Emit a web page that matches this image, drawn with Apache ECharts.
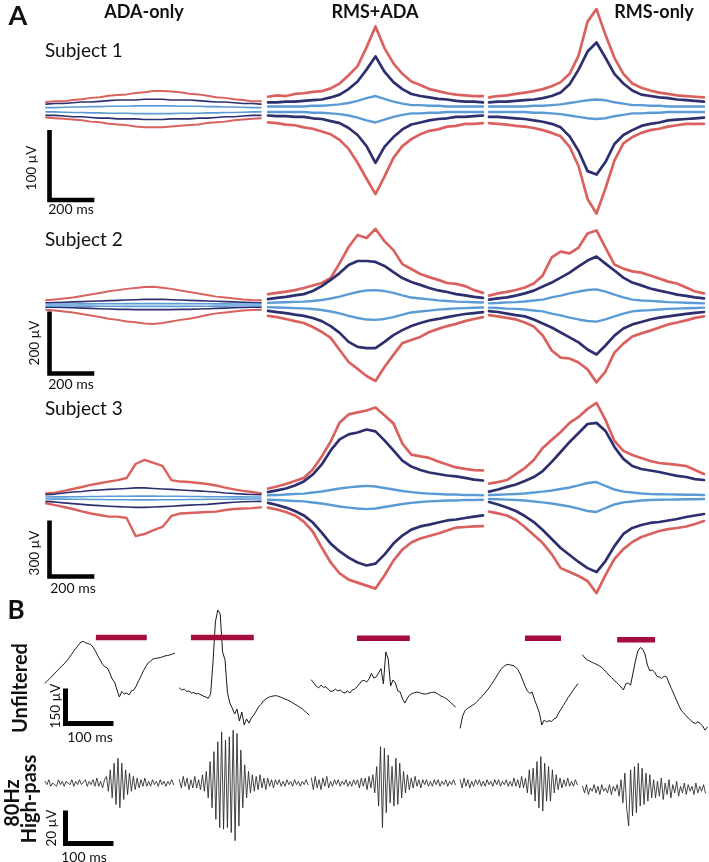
<!DOCTYPE html>
<html><head><meta charset="utf-8">
<script src="https://cdn.jsdelivr.net/npm/echarts@6/dist/echarts.min.js"></script>
<style>html,body{margin:0;padding:0;background:#fff}#c{width:709px;height:862px}</style>
</head><body><div id="c"></div>
<script>
// ---------- Panel A data (µV envelopes vs time in ms) ----------
const timesA = [-480,-440,-400,-360,-320,-280,-240,-200,-160,-120,-80,-40,0,40,80,120,160,200,240,280,320,360,400,440,480];

const s1AdaRedUp   = [11,12,12,14,15,17,18,20,21,22,24,25,27,27,26,25,23,22,20,18,17,15,14,12,12];
const s1AdaRedDn   = [11,12,13,14,15,17,18,20,21,22,24,25,25,25,24,23,22,21,19,18,17,15,14,13,12];
const s1AdaNavyUp  = [8,9,9,10,11,11,12,13,14,14,14,15,15,15,14,14,14,13,12,11,11,10,9,9,8];
const s1AdaNavyDn  = [8,8,9,10,10,11,12,12,13,13,13,14,14,14,13,13,13,12,12,11,10,10,9,8,8];
const s1AdaLight   = [3,3,3.5,4,4,4.5,4.5,5,5,5,5.5,5.5,5.5,5.5,5.5,5,5,5,4.5,4.5,4,4,3.5,3,3];
const s1RmsAdaRedUp  = [18,20,19,22,23,25,26,30,37,49,62,89,119,88,66,51,40,35,29,26,23,21,20,19,19];
const s1RmsAdaRedDn  = [19,20,22,23,26,28,32,36,44,57,77,100,122,97,70,53,43,36,31,29,25,24,21,21,20];
const s1RmsAdaNavyUp = [10,10,11,11,12,13,14,17,21,29,40,57,76,54,39,29,22,19,17,15,14,12,11,11,10];
const s1RmsAdaNavyDn = [9,10,10,11,11,13,14,17,20,27,37,53,77,54,40,29,22,19,16,14,13,11,11,10,9];
const s1RmsAdaLight  = [4,4,4,4,4,5,5,6,7,9,12,16,19,15,11,8,6,6,5,5,4,4,4,4,4];
const s1RmsRedUp  = [17,19,20,22,24,26,29,33,39,51,77,126,144,107,74,51,37,31,27,24,22,20,19,18,17];
const s1RmsRedDn  = [20,21,22,24,25,27,30,34,39,54,82,129,150,114,74,49,40,34,30,28,25,23,21,21,21];
const s1RmsNavyUp = [10,11,11,12,13,14,16,19,24,36,57,83,96,74,51,37,27,21,19,17,16,14,13,12,11];
const s1RmsNavyDn = [11,11,12,13,14,16,18,21,26,39,60,89,94,76,50,37,30,24,21,19,16,15,14,13,12];
const s1RmsLight  = [4,4,4,4,4,5,5,6,7,9,11,13,14,13,10,8,6,6,5,5,4,4,4,4,4];

const s2AdaRedUp   = [15,18,21,24,29,34,39,44,48,52,55,58,59,56,52,47,42,37,32,27,24,21,18,16,15];
const s2AdaRedDn   = [15,18,21,24,29,34,39,44,48,53,56,60,61,58,53,48,44,39,32,27,24,21,18,16,15];
const s2AdaNavyUp  = [7,8,9,10,11,12,13,14,15,16,17,18,18,18,17,16,15,14,13,12,11,10,9,8,7];
const s2AdaNavyDn  = [7,7,8,9,10,11,12,13,14,14,15,15,15,15,15,14,14,13,12,11,10,9,8,7,7];
const s2AdaLight   = [3,3,3,3,3.5,3.5,4,4,4,4.5,4.5,4.5,4.5,4.5,4.5,4.5,4,4,4,3.5,3.5,3,3,3,3];
const s2RmsAdaRedUp  = [35,39,43,48,55,63,71,87,135,187,226,216,245,206,177,132,116,100,90,81,71,68,61,48,39];
const s2RmsAdaRedDn  = [35,39,45,52,58,71,87,106,145,184,206,229,245,200,161,123,113,103,87,77,68,61,52,45,39];
const s2RmsAdaNavyUp = [19,23,26,31,35,45,61,81,103,129,142,142,139,126,106,87,74,65,55,47,42,35,31,26,23];
const s2RmsAdaNavyDn = [19,23,26,31,35,42,52,68,90,119,135,139,139,119,97,81,68,58,50,45,39,34,29,26,23];
const s2RmsAdaLight  = [7,8,9,10,11,13,16,21,27,35,42,47,48,45,39,31,24,21,18,15,13,11,10,9,8];
const s2RmsRedUp  = [32,39,44,50,58,71,97,155,174,168,187,232,242,187,132,119,110,106,97,87,77,71,58,45,39];
const s2RmsRedDn  = [31,35,40,45,55,68,97,145,168,171,184,206,248,213,152,123,100,90,81,71,61,55,48,40,35];
const s2RmsNavyUp = [19,23,26,32,39,48,61,74,90,106,126,145,158,135,113,90,74,65,55,48,42,35,31,26,23];
const s2RmsNavyDn = [18,21,26,31,35,45,58,71,87,103,119,142,158,129,97,74,61,53,45,39,35,31,27,24,21];
const s2RmsLight  = [7,8,10,11,13,16,19,26,32,39,45,50,52,45,35,26,19,16,15,13,11,10,9,8,7];

const s3AdaRedUp   = [25,29,38,48,59,70,79,88,96,107,182,204,188,172,96,88,86,80,75,67,56,46,38,32,25];
const s3AdaRedDn   = [28,38,48,59,72,83,91,100,100,107,204,193,172,155,96,83,80,78,75,73,64,59,56,54,50];
const s3AdaNavyUp  = [18,21,27,32,35,40,43,46,48,51,54,54,51,48,46,43,40,38,35,32,27,24,21,19,18];
const s3AdaNavyDn  = [18,21,26,30,34,38,41,44,46,48,50,50,48,46,44,41,38,36,34,30,26,23,20,19,18];
const s3AdaLight   = [5,6,6,7,7,8,8,9,9,9,10,10,10,9,9,9,8,8,7,7,7,6,6,5,5];
const s3RmsAdaRedUp  = [48,59,72,88,105,150,220,300,402,445,456,466,482,440,397,289,230,220,212,193,177,161,153,147,145];
const s3RmsAdaRedDn  = [54,64,78,96,129,182,268,348,407,440,456,472,488,418,338,279,241,220,206,193,177,161,158,155,153];
const s3RmsAdaNavyUp = [29,38,48,64,86,123,177,252,311,338,348,364,354,306,252,198,166,147,134,126,118,113,105,96,91];
const s3RmsAdaNavyDn = [29,40,54,72,96,134,188,247,289,322,348,364,354,306,247,204,172,155,145,134,123,118,110,102,96];
const s3RmsAdaLight  = [12,13,16,19,21,27,32,40,48,54,59,62,59,51,43,35,29,24,21,19,16,16,13,13,12];
const s3RmsRedUp  = [72,80,91,123,155,198,263,306,348,397,429,472,504,413,300,247,225,209,193,182,177,172,166,145,123];
const s3RmsRedDn  = [78,88,99,123,161,204,247,306,381,402,423,450,515,418,332,279,241,214,198,182,172,166,158,145,129];
const s3RmsNavyUp = [29,40,54,67,86,107,139,188,241,295,343,391,397,354,268,204,166,150,142,134,123,113,107,96,91];
const s3RmsNavyDn = [27,40,56,75,102,134,177,225,273,311,348,381,402,343,263,198,166,150,139,134,126,118,107,99,91];
const s3RmsLight  = [11,12,14,16,19,24,29,35,43,51,62,75,80,59,40,29,24,19,16,15,14,13,12,12,11];

const methodTitles = ['ADA-only','RMS+ADA','RMS-only'];
const subjectTitles = ['Subject 1','Subject 2','Subject 3'];
const scaleUV = [100, 200, 300];
const scaleMsA = 200;

// ---------- Panel B data ----------
const segStartMs = [0, 280, 555, 865, 1120];
const unfDtMs = 5;
const hpDtMs = 4;
const unfSeg1 = [29,39,49,60,71,82,92,103,112,124,137,152,167,180,193,206,208,202,199,195,184,167,146,129,109,100,94,73,47,34,0,-30,-6,-17,-13,-21,-4,0,17,39,60,82,101,116,124,133,135,137,139,142,146,148,150,154,157];
const unfSeg2 = [9,0,4,-6,-4,-13,-11,-17,-15,-21,-26,-30,-36,-17,120,292,343,326,163,129,-9,-56,-77,-103,-82,-133,-94,-150,-124,-142,-120,-107,-90,-73,-62,-47,-39,-32,-28,-26,-24,-26,-30,-34,-39,-43,-47,-54,-60,-66,-73,-79,-88,-97,-107];
const unfSeg3 = [43,30,17,9,21,11,14,4,-6,-4,4,-4,0,-9,-13,-4,-13,0,4,13,26,39,41,34,47,71,51,56,73,92,26,163,133,17,43,30,-4,-9,-39,-56,-34,-21,-15,-11,-9,-11,-15,-17,-17,-13,-11,-9,-13,-19,-26,-30,-36,-43,-54,-62,-73];
const unfSeg4 = [-163,-112,-88,-79,-73,-66,-60,-49,-39,-28,-17,-4,9,24,39,56,73,88,99,107,110,107,105,99,88,69,43,17,-4,-15,-9,-43,-69,-99,-150,-129,-137,-131,-135,-124,-120,-99,-82,-66,-49,-32,-17,-2,13,26];
const unfSeg5 = [150,137,129,124,118,114,109,103,97,86,75,64,54,43,34,24,13,0,26,30,21,73,124,167,182,176,154,107,82,86,77,58,56,49,60,56,30,6,-17,-41,-64,-86,-97,-109,-120,-129,-139,-144,-137,-144,-154,-172,-159];
const hpSeg1 = [1,-1,2,-2,0,1,-2,2,-1,1,-2,1,0,-1,2,-2,1,-1,2,-1,0,2,-2,1,-1,2,-2,3,-2,1,-3,2,
  4,-5,8,-9,12,-13,15,-15,12,-10,8,-7,6,
  -5,4,-4,3,-3,2,-2,3,-2,1,-2,2,-1,1,-2,2,-1,1,-2,1,-1,2,-1];
const hpSeg2 = [2,-3,4,-2,3,-4,2,-3,4,-3,2,-4,5,-5,
  7,-9,13,-15,19,-22,25,-27,31,-28,26,-27,28,-30,32,-35,30,-26,20,-15,11,-9,
  7,-6,5,-5,4,-4,5,-3,3,-4,3,-2,2,-3,2,-1,2,-2,1,-2,2,-1,1,-2,2,-1,1,-2,1,-1,2,-1];
const hpSeg3 = [3,-4,4,-3,2,-4,3,-2,4,-3,1,-2,2,-1,2,-2,1,-1,2,-2,1,-2,2,-1,2,-3,3,-2,3,-4,4,-3,5,-6,
  10,-14,22,-27,21,-18,17,-12,10,-14,15,-13,12,-9,7,
  -6,5,-4,3,-3,4,-2,2,-3,2,-1,2,-2,1,-2,2,-1,2,-2,1,-1,2,-2,1,-1,2,-1];
const hpSeg4 = [2,-3,3,-2,2,-3,1,-2,2,-1,2,-2,1,-2,2,-1,1,-2,2,-1,2,-2,1,-1,2,-2,1,-2,3,-2,2,-3,4,-3,3,
  -6,8,-7,9,-11,13,-15,16,-17,12,-11,10,-11,8,-6,5,
  -4,3,-3,2,-2,3,-2,1,-2,2,-1];
const hpSeg5 = [-2,-6,-1,-7,-3,-5,-1,-6,-2,-7,-1,-5,-3,-6,-1,-7,-2,-5,-1,-8,
  2,-12,6,-16,-26,8,-20,10,-18,12,-14,9,-13,6,-11,5,-9,
  2,-9,1,-8,3,-10,0,-7,2,-9,-1,-6,1,-8,-2,-6,0,-7,-1,-5,-2,-7,0,-6,-2,-5,-1,-6];
const barStartMs = [106, 304, 650, 1000, 1192];
const barEndMs   = [212, 435, 760, 1075, 1271];
const barLevelUV = [225, 225, 222, 222, 215];
const scaleUnfUV = 150, scaleHpUV = 20, scaleMsB = 100;

// ---------- build ----------
const RED = '#D9625F', NAVY = '#2D2F6E', LIGHT = '#5B9BD5', BAR = '#A50D3D';
const subjects = [
  [[s1AdaRedUp,s1AdaRedDn,s1AdaNavyUp,s1AdaNavyDn,s1AdaLight],[s1RmsAdaRedUp,s1RmsAdaRedDn,s1RmsAdaNavyUp,s1RmsAdaNavyDn,s1RmsAdaLight],[s1RmsRedUp,s1RmsRedDn,s1RmsNavyUp,s1RmsNavyDn,s1RmsLight]],
  [[s2AdaRedUp,s2AdaRedDn,s2AdaNavyUp,s2AdaNavyDn,s2AdaLight],[s2RmsAdaRedUp,s2RmsAdaRedDn,s2RmsAdaNavyUp,s2RmsAdaNavyDn,s2RmsAdaLight],[s2RmsRedUp,s2RmsRedDn,s2RmsNavyUp,s2RmsNavyDn,s2RmsLight]],
  [[s3AdaRedUp,s3AdaRedDn,s3AdaNavyUp,s3AdaNavyDn,s3AdaLight],[s3RmsAdaRedUp,s3RmsAdaRedDn,s3RmsAdaNavyUp,s3RmsAdaNavyDn,s3RmsAdaLight],[s3RmsRedUp,s3RmsRedDn,s3RmsNavyUp,s3RmsNavyDn,s3RmsLight]]
];
const rowCenters = [[109.5,108.5,108.5],[305,305,305.5],[498,497.5,497]];
const rowPxPerUV = [0.70, 0.31, 0.1867];
const scaleBase = [200, 373.5, 576.5];
const colLeft = [46, 268, 489], colW = 215, half = 110;
const msSpan = timesA[timesA.length-1] - timesA[0];

const grids=[], xAxes=[], yAxes=[], series=[], graphics=[];
function addGrid(g, xr, yr){
  const idx = grids.length;
  grids.push(Object.assign({containLabel:false, show:false}, g));
  xAxes.push({type:'value', gridIndex:idx, min:xr[0], max:xr[1], show:false, splitLine:{show:false}});
  yAxes.push({type:'value', gridIndex:idx, min:yr[0], max:yr[1], show:false, splitLine:{show:false}});
  return idx;
}
function addLine(idx, pts, color, width, cap){
  series.push({type:'line', xAxisIndex:idx, yAxisIndex:idx, data:pts, symbol:'none', silent:true,
    animation:false, clip:false, lineStyle:{color:color, width:width, join:'round', cap:cap||'round'}});
}
const zip = (ts, vs, sign) => vs.map((v,i)=>[ts[i], sign*v]);

for (let r=0;r<3;r++){
  for (let c=0;c<3;c++){
    const px = rowPxPerUV[r], ctr = rowCenters[r][c];
    const gi = addGrid({left:colLeft[c], top:ctr-half, width:colW, height:2*half},
                       [timesA[0], timesA[timesA.length-1]], [-half/px, half/px]);
    const [ru, rd, nu, nd, li] = subjects[r][c];
    const ada = c===0;
    const wr = ada ? (r===2?2.4:2) : 2.7, wn = ada ? 1.6 : 2.7, wl = ada ? 1.6 : 2.4;
    addLine(gi, zip(timesA, ru, 1), RED, wr);
    addLine(gi, zip(timesA, rd, -1), RED, wr);
    addLine(gi, zip(timesA, nu, 1), NAVY, wn);
    addLine(gi, zip(timesA, nd, -1), NAVY, wn);
    addLine(gi, zip(timesA, li, 1), LIGHT, wl);
    addLine(gi, zip(timesA, li, -1), LIGHT, wl);
  }
  // scale bar
  const px = rowPxPerUV[r], h = scaleUV[r]*px, w = scaleMsA*colW/msSpan;
  const si = addGrid({left:49.5, top:scaleBase[r]-h, width:w, height:h}, [0, scaleMsA], [0, scaleUV[r]]);
  series.push({type:'line', xAxisIndex:si, yAxisIndex:si, data:[[0,scaleUV[r]],[0,0],[scaleMsA,0]], symbol:'none',
    silent:true, animation:false, clip:false, lineStyle:{color:'#000', width:4.6, join:'miter', cap:'butt'}});
}

// Panel B
const bLeft = 45, bWidth = 662, pxPerMsB = 0.48, pxPerUVunf = 35/150, pxPerUVhp = 1.65;
const msMaxB = bWidth/pxPerMsB;
const unfTop = 600, unfBase = 690, unfBottom = 740;
const ug = addGrid({left:bLeft, top:unfTop, width:bWidth, height:unfBottom-unfTop}, [0, msMaxB],
  [-(unfBottom-unfBase)/pxPerUVunf, (unfBase-unfTop)/pxPerUVunf]);
[unfSeg1,unfSeg2,unfSeg3,unfSeg4,unfSeg5].forEach((seg,s)=>{
  addLine(ug, seg.map((v,k)=>[segStartMs[s]+unfDtMs*k, v]), '#1a1a1a', 1);
});
barStartMs.forEach((b,i)=>{
  addLine(ug, [[b, barLevelUV[i]],[barEndMs[i], barLevelUV[i]]], BAR, 5.5, 'butt');
});
const hpTop = 725, hpBase = 783, hpBottom = 850;
const hg = addGrid({left:bLeft, top:hpTop, width:bWidth, height:hpBottom-hpTop}, [0, msMaxB],
  [-(hpBottom-hpBase)/pxPerUVhp, (hpBase-hpTop)/pxPerUVhp]);
[hpSeg1,hpSeg2,hpSeg3,hpSeg4,hpSeg5].forEach((seg,s)=>{
  addLine(hg, seg.map((v,k)=>[segStartMs[s]+hpDtMs*k, v]), '#262626', 0.85);
});
[[scaleUnfUV, pxPerUVunf, 723.5],[scaleHpUV, pxPerUVhp, 843.5]].forEach(([uv,p,base])=>{
  const h = uv*p, w = scaleMsB*pxPerMsB;
  const si = addGrid({left:65.5, top:base-h, width:w, height:h}, [0, scaleMsB], [0, uv]);
  series.push({type:'line', xAxisIndex:si, yAxisIndex:si, data:[[0,uv],[0,0],[scaleMsB,0]], symbol:'none',
    silent:true, animation:false, clip:false, lineStyle:{color:'#000', width:5, join:'miter', cap:'butt'}});
});

// Texts
const FONT = 'Lato, "Open Sans", sans-serif';
function txt(x, y, s, size, bold, rot, align){
  return {type:'text', x:x, y:y, rotation:rot||0, silent:true,
    style:{text:s, font:(bold?'bold ':'')+size+'px '+FONT, fill:'#111', textAlign:align||'center', textVerticalAlign:'middle'}};
}
graphics.push(txt(18, 16, 'A', 27, true));
graphics.push(txt(16, 611, 'B', 26, true));
[144, 375, 654].forEach((x,i)=>graphics.push(txt(x, 12, methodTitles[i], 18, true)));
[51, 240, 409].forEach((y,i)=>graphics.push(txt(45, y, subjectTitles[i], 19, false, 0, 'left')));
[[32,168],[35,343],[35,553]].forEach(([x,y],i)=>graphics.push(txt(x, y, scaleUV[i]+' µV', 13.5, false, Math.PI/2)));
[[71,209],[71,384],[73,588]].forEach(([x,y])=>graphics.push(txt(x, y, scaleMsA+' ms', 14, false)));
graphics.push(txt(56, 706, scaleUnfUV+' µV', 13.5, false, Math.PI/2));
graphics.push(txt(90, 737, scaleMsB+' ms', 14, false));
graphics.push(txt(52, 828, scaleHpUV+' µV', 13.5, false, Math.PI/2));
graphics.push(txt(84, 857, scaleMsB+' ms', 14, false));
graphics.push(txt(21, 688, 'Unfiltered', 20, true, Math.PI/2));
graphics.push(txt(13, 803, '80Hz', 20, true, Math.PI/2));
graphics.push(txt(30, 799, 'High-pass', 20, true, Math.PI/2));

const chart = echarts.init(document.getElementById('c'));
chart.setOption({animation:false, backgroundColor:'#fff', grid:grids, xAxis:xAxes, yAxis:yAxes, series:series, graphic:graphics});
</script></body></html>
